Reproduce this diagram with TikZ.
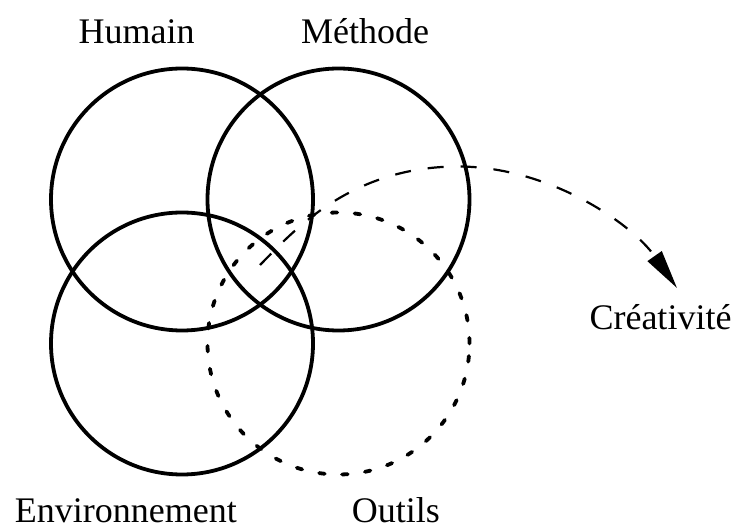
\documentclass[tikz,border=0pt]{standalone}
\usepackage{fontspec}
\setmainfont{Liberation Serif}
\usetikzlibrary{arrows.meta}
\tikzstyle{ring} = [circle, draw, line width=1.9pt, minimum size=131pt, inner sep=0pt]
\tikzstyle{dotring} = [circle, draw, line width=1.9pt, line cap=round, dash pattern=on 2.8pt off 8.7pt, minimum size=131pt, inner sep=0pt]
\tikzstyle{tag} = [font=\fontsize{18}{22}\selectfont, anchor=base, inner sep=0pt]
\tikzstyle{flow} = [line width=1.1pt, dash pattern=on 8pt off 8.5pt, -{Triangle[length=19.5pt, width=8.5pt]}]

\begin{document}
\begin{tikzpicture}[x=0.5pt, y=-0.5pt]
            \useasboundingbox (0,0) rectangle (735,529);
            \node [ring] at (182,199.5) (humain) {};
            \node [ring] at (338.5,199.5) (methode) {};
            \node [ring] at (182,343.5) (envir) {};
            \node [dotring] at (338.5,343.5) (outils) {};
            \node [tag] at (136.7,43.3) (humainT) {Humain};
            \node [tag] at (365,43.3) (methodeT) {Méthode};
            \node [tag] at (125.8,523) (envirT) {Environnement};
            \node [tag] at (395.8,523) (outilsT) {Outils};
            \node [tag] at (660.5,330) (crea) {Créativité};
            \coordinate (spark) at (260,265);
            \coordinate (crest) at (458,166.5);
            \coordinate (tip) at (677,288);
            \draw [flow] (spark) .. controls +(30,-30) and +(-110,0) .. (crest)
                .. controls +(90,0) and +(-46,-65.5) .. (tip);
            \end{tikzpicture}
\end{document}
